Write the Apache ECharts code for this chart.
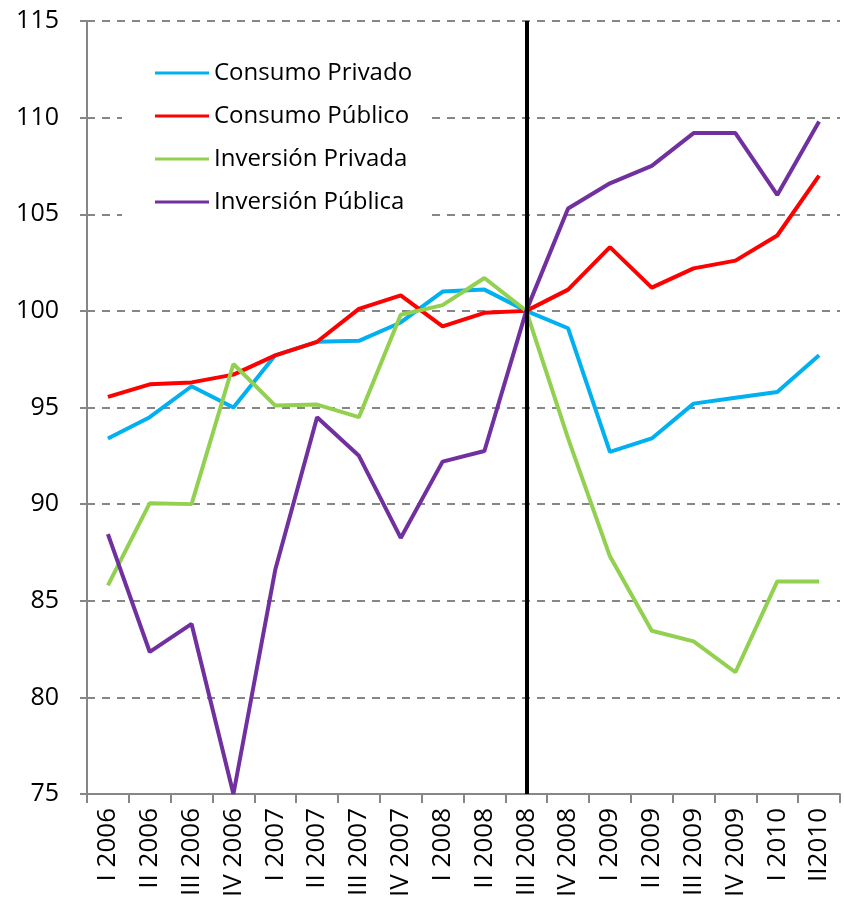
<!DOCTYPE html>
<html>
<head>
<meta charset="utf-8">
<script src="https://cdn.jsdelivr.net/npm/echarts@6/dist/echarts.min.js"></script>
<style>
  html, body { margin: 0; padding: 0; background: #fff; }
  #chart { width: 844px; height: 912px; }
</style>
</head>
<body>
<div id="chart"></div>
<script>
// trimestres
var quarters = ['I 2006', 'II 2006', 'III 2006', 'IV 2006', 'I 2007', 'II 2007', 'III 2007', 'IV 2007',
    'I 2008', 'II 2008', 'III 2008', 'IV 2008', 'I 2009', 'II 2009', 'III 2009', 'IV 2009', 'I 2010', 'II2010'];

var consumoPrivado = [93.4, 94.5, 96.1, 95.0, 97.7, 98.4, 98.45, 99.4, 101.0, 101.1, 100, 99.1, 92.7, 93.4, 95.2, 95.5, 95.8, 97.7];
var consumoPublico = [95.55, 96.2, 96.3, 96.7, 97.7, 98.4, 100.1, 100.8, 99.2, 99.9, 100, 101.1, 103.3, 101.2, 102.2, 102.6, 103.9, 107.0];
var inversionPrivada = [85.8, 90.05, 90.0, 97.25, 95.1, 95.15, 94.5, 99.8, 100.3, 101.7, 100, 93.4, 87.3, 83.45, 82.9, 81.3, 86.0, 86.0];
var inversionPublica = [88.45, 82.35, 83.8, 75.0, 86.6, 94.5, 92.5, 88.25, 92.2, 92.75, 100, 105.3, 106.6, 107.5, 109.2, 109.2, 106.0, 109.8];

var yTicks = { min: 75, max: 115, interval: 5 };
var crisisQuarter = 'III 2008';

var font = '"Open Sans", Lato, sans-serif';

function makeLine(name, data, color) {
    return {
        name: name,
        type: 'line',
        data: data,
        symbol: 'none',
        lineStyle: { color: color, width: 4 },
        itemStyle: { color: color }
    };
}

var chart = echarts.init(document.getElementById('chart'));
var series = [
    makeLine('Consumo Privado', consumoPrivado, '#00B0F0'),
    makeLine('Consumo Público', consumoPublico, '#FF0000'),
    makeLine('Inversión Privada', inversionPrivada, '#92D050'),
    makeLine('Inversión Pública', inversionPublica, '#7030A0')
];
// línea vertical en III 2008
series[3].markLine = {
    silent: true,
    symbol: ['none', 'none'],
    label: { show: false },
    lineStyle: { color: '#000', width: 4, type: 'solid' },
    data: [{ xAxis: crisisQuarter }]
};

var option = {
    animation: false,
    textStyle: { fontFamily: font },
    grid: { left: 87, right: 4, top: 21, bottom: 118 },
    legend: {
        orient: 'vertical',
        left: 122,
        top: 55,
        padding: [6, 16, 6, 33],
        itemGap: 19,
        itemWidth: 54,
        itemHeight: 3,
        icon: 'rect',
        backgroundColor: '#fff',
        textStyle: { fontSize: 24, color: '#000', fontFamily: font, padding: [0, 0, 0, 0] },
        data: ['Consumo Privado', 'Consumo Público', 'Inversión Privada', 'Inversión Pública']
    },
    xAxis: {
        type: 'category',
        data: quarters,
        boundaryGap: true,
        axisLine: { lineStyle: { color: '#868686', width: 2 } },
        axisTick: { show: true, length: 9, lineStyle: { color: '#868686', width: 2 } },
        axisLabel: { rotate: 90, interval: 0, fontSize: 26, color: '#000', margin: 14, fontFamily: font }
    },
    yAxis: {
        type: 'value',
        min: yTicks.min,
        max: yTicks.max,
        interval: yTicks.interval,
        axisLine: { show: true, lineStyle: { color: '#868686', width: 2 } },
        axisTick: { show: true, length: 7, lineStyle: { color: '#868686', width: 2 } },
        axisLabel: { fontSize: 25, color: '#000', margin: 28, fontFamily: font },
        splitLine: { lineStyle: { color: '#868686', width: 2, type: [8, 7] } }
    },
    series: series
};

chart.setOption(option);
</script>
</body>
</html>
